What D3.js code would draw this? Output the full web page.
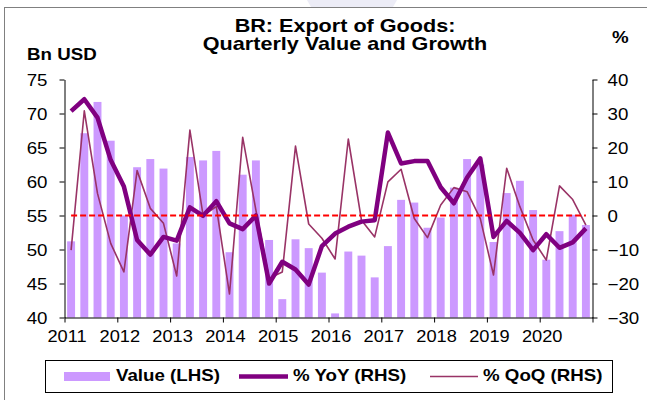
<html>
<head>
<meta charset="utf-8">
<script src="https://d3js.org/d3.v7.min.js"></script>
<style>
  body { margin: 0; background: #fff; }
  text { font-family: "Liberation Sans", Arial, sans-serif; }
</style>
</head>
<body>
<script>
    // quarterly data 2011Q1 - 2020Q4
    const years = [2011, 2012, 2013, 2014, 2015, 2016, 2017, 2018, 2019, 2020];
    const quarters = years.flatMap(y => ["Q1", "Q2", "Q3", "Q4"].map(q => y + q));

    // Bn USD (LHS)
    const value = [51.2, 67.1, 71.7, 66.0, 55.0, 62.1, 63.3, 61.9,
                   50.9, 63.6, 63.1, 64.5, 49.6, 61.0, 63.1, 51.4,
                   42.7, 51.5, 50.2, 46.6, 40.6, 49.7, 49.1, 45.9,
                   50.5, 57.3, 56.9, 53.2, 54.7, 59.1, 63.3, 62.5,
                   51.1, 58.3, 60.1, 55.8, 48.5, 52.7, 55.1, 53.6];
    // % YoY (RHS)
    const yoy = [30.7, 34.2, 28.8, 16.3, 8.5, -7.2, -11.5, -6.3,
                 -7.4, 2.4, -0.1, 4.2, -2.3, -4.0, 0.0, -20.0,
                 -13.6, -15.9, -20.3, -9.0, -5.3, -3.3, -1.8, -1.4,
                 24.4, 15.3, 16.0, 16.0, 8.3, 3.6, 11.2, 16.8,
                 -6.3, -1.6, -5.1, -10.2, -5.5, -9.5, -7.9, -3.8];
    // % QoQ (RHS)
    const qoq = [-10.2, 30.8, 6.5, -8.2, -16.6, 13.2, 2.1, -2.3,
                 -17.8, 25.1, 0.0, 2.6, -23.1, 23.0, 1.6, -18.5,
                 -16.6, 20.4, -2.5, -6.7, -12.8, 22.5, -1.4, -6.3,
                 9.9, 13.6, -0.9, -6.5, 3.1, 8.2, 7.0, -0.9,
                 -17.5, 13.9, 2.6, -7.2, -13.1, 8.7, 4.7, -2.8];

    const leftTicks = [40, 45, 50, 55, 60, 65, 70, 75];
    const rightTicks = [-30, -20, -10, 0, 10, 20, 30, 40];
    const yearTicks = [2011, 2012, 2013, 2014, 2015, 2016, 2017, 2018, 2019, 2020, 2021];

    let width = 647;
    let height = 400;
    const sx = 1.17; // text in the picture is a bit wide

    let svg = d3.select("body").append("svg")
        .attr("width", width)
        .attr("height", height);

    // faint mark at the very top + frame
    svg.append("path")
        .attr("d", "M307,0 L397,0 L393,7 L311,7 Z")
        .attr("fill", "#ececf6");
    svg.append("rect")
        .attr("x", 4.5).attr("y", 7.5)
        .attr("width", 700).attr("height", 500)
        .attr("fill", "none")
        .attr("stroke", "#808080");

    const plotL = 64.5, plotR = 592.5, plotT = 79.5, plotB = 317.5;

    let x = d3.scaleBand()
        .domain(quarters)
        .range([plotL, plotR])
        .paddingInner(0.4)
        .paddingOuter(0.2);
    let xYear = d3.scaleLinear().domain([2011, 2021]).range([plotL, plotR]);
    let yL = d3.scaleLinear().domain([40, 75]).range([plotB, plotT]);
    let yR = d3.scaleLinear().domain([-30, 40]).range([plotB, plotT]);

    function stretchText(sel, dx, anchor, scale) {
        sel.attr("x", 0)
           .attr("text-anchor", anchor)
           .attr("transform", `translate(${dx},0) scale(${scale},1)`);
    }

    // bars
    svg.selectAll(".bar")
        .data(value)
        .join("rect")
        .attr("class", "bar")
        .attr("x", (d, i) => x(quarters[i]))
        .attr("width", x.bandwidth())
        .attr("y", d => yL(d))
        .attr("height", d => yL(40) - yL(d))
        .attr("fill", "#cc99ff");

    // axes
    let gL = svg.append("g")
        .attr("transform", `translate(${plotL},0)`)
        .call(d3.axisLeft(yL).tickValues(leftTicks).tickSize(5).tickSizeOuter(0));
    gL.selectAll("text").attr("dy", "0.4em").call(stretchText, -17, "end", sx);

    let gR = svg.append("g")
        .attr("transform", `translate(${plotR},0)`)
        .call(d3.axisRight(yR).tickValues(rightTicks).tickSize(5).tickSizeOuter(0));
    gR.selectAll("text").attr("dy", "0.4em").call(stretchText, 15, "start", sx);

    let gB = svg.append("g")
        .attr("transform", `translate(0,${plotB})`)
        .call(d3.axisBottom(xYear).tickValues(yearTicks).tickSize(5).tickSizeOuter(0)
            .tickFormat(d => d < 2021 ? d : ""));
    gB.selectAll("text").attr("y", 25).attr("dy", 0).call(stretchText, 2, "middle", 1.14);

    [gL, gR, gB].forEach(g => {
        g.selectAll("text").attr("font-size", 16).attr("fill", "#000")
            .attr("font-family", "'Liberation Sans', Arial, sans-serif");
        g.selectAll("line, path").attr("stroke", "#000");
    });

    let cx = (d, i) => x(quarters[i]) + x.bandwidth() / 2;

    // % QoQ thin line
    svg.append("path")
        .datum(qoq)
        .attr("d", d3.line().x(cx).y(d => yR(d)))
        .attr("fill", "none")
        .attr("stroke", "#993366")
        .attr("stroke-width", 1.6)
        .attr("stroke-linejoin", "round");

    // % YoY thick line
    svg.append("path")
        .datum(yoy)
        .attr("d", d3.line().x(cx).y(d => yR(d)))
        .attr("fill", "none")
        .attr("stroke", "#800080")
        .attr("stroke-width", 4.5)
        .attr("stroke-linejoin", "round");

    // zero line (RHS)
    svg.append("line")
        .attr("x1", cx(0, 0))
        .attr("x2", cx(0, quarters.length - 1))
        .attr("y1", yR(0))
        .attr("y2", yR(0))
        .attr("stroke", "#ff0000")
        .attr("stroke-width", 2)
        .attr("stroke-dasharray", "6,3");

    // titles
    function addText(txt, px, py, size, anchor, scale) {
        svg.append("text")
            .attr("transform", `translate(${px},${py}) scale(${scale},1)`)
            .attr("text-anchor", anchor)
            .attr("font-size", size)
            .attr("font-weight", "bold")
            .text(txt);
    }
    addText("BR: Export of Goods:", 345, 32, 18, "middle", 1.2);
    addText("Quarterly Value and Growth", 345, 50, 18, "middle", 1.2);
    addText("Bn USD", 27, 60, 16, "start", sx);
    addText("%", 612, 43, 16, "start", sx);

    // legend
    let lg = svg.append("g");
    lg.append("rect")
        .attr("x", 45.5).attr("y", 360.5)
        .attr("width", 567).attr("height", 32)
        .attr("fill", "#fff")
        .attr("stroke", "#000");
    lg.append("rect")
        .attr("x", 64).attr("y", 372)
        .attr("width", 46).attr("height", 9)
        .attr("fill", "#cc99ff");
    addText("Value (LHS)", 116, 381, 16, "start", sx);
    lg.append("line")
        .attr("x1", 239).attr("x2", 288).attr("y1", 376.5).attr("y2", 376.5)
        .attr("stroke", "#800080").attr("stroke-width", 4.5);
    addText("% YoY (RHS)", 293, 381, 16, "start", sx);
    lg.append("line")
        .attr("x1", 430).attr("x2", 478).attr("y1", 376.5).attr("y2", 376.5)
        .attr("stroke", "#993366").attr("stroke-width", 1.6);
    addText("% QoQ (RHS)", 483, 381, 16, "start", sx);
</script>
</body>
</html>
